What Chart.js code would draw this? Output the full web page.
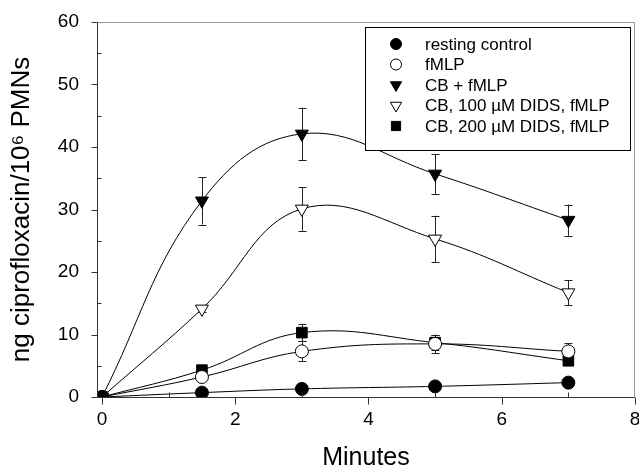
<!DOCTYPE html>
<html>
<head>
<meta charset="utf-8">
<script src="https://cdn.jsdelivr.net/npm/chart.js@4.4.1/dist/chart.umd.min.js"></script>
<style>
  html, body { margin: 0; padding: 0; background: #fff; }
  #wrap { width: 639px; height: 469px; }
</style>
</head>
<body>
<div id="wrap"><canvas id="myChart"></canvas></div>
<script>
// time points (minutes)
const minutes = [0, 1.5, 3, 5, 7];

// ng ciprofloxacin / 10^6 PMNs
const resting = [0, 0.7, 1.3, 1.7, 2.3];
const fmlp = [0, 3.2, 7.3, 8.5, 7.3];
const cbFmlp = [0, 31.4, 42.1, 35.7, 28.3];
const dids100 = [0, 14.1, 30.1, 25.3, 16.7];
const dids200 = [0, 4.3, 10.3, 8.7, 5.8];

// error bars (0 = none visible)
const restingErr = [0, 0, 0, 0, 0];
const fmlpErr = [0, 0, 1.6, 1.5, 1.3];
const cbFmlpErr = [0, 3.8, 4.2, 3.2, 2.5];
const dids100Err = [0, 0.5, 3.5, 3.7, 2.0];
const dids200Err = [0, 0, 1.4, 1.2, 0];

const legendLabels = ['resting control', 'fMLP', 'CB + fMLP', 'CB, 100 \u00b5M DIDS, fMLP', 'CB, 200 \u00b5M DIDS, fMLP'];
const xTickVals = [0, 2, 4, 6, 8];
const xMinorVals = [1, 3, 5, 7];
const yTickVals = [0, 10, 20, 30, 40, 50, 60];
const yMinorVals = [5, 15, 25, 35, 45, 55];

const FONT = '"Liberation Sans", Arial, sans-serif';

function makeSet(label, values, errs, style, filled, rotation, radius) {
    return {
        label: label,
        data: minutes.map((m, i) => ({ x: m, y: values[i] })),
        errors: errs,
        borderColor: '#000',
        borderWidth: 1,
        tension: 0.4,
        pointStyle: style,
        rotation: rotation,
        pointRotation: rotation,
        pointRadius: radius,
        pointBackgroundColor: filled ? '#000' : '#fff',
        pointBorderColor: '#000',
        pointBorderWidth: 1,
        fill: false
    };
}

// error bars drawn under the markers
const errorBars = {
    id: 'errorBars',
    beforeDatasetsDraw(chart) {
        const ctx = chart.ctx;
        const xs = chart.scales.x, ys = chart.scales.y;
        ctx.save();
        ctx.strokeStyle = '#222';
        ctx.lineWidth = 1;
        chart.data.datasets.forEach(ds => {
            ds.data.forEach((p, i) => {
                const e = ds.errors[i];
                if (!e) return;
                const x = Math.round(xs.getPixelForValue(p.x)) + 0.5;
                const top = ys.getPixelForValue(p.y + e);
                const bot = ys.getPixelForValue(p.y - e);
                ctx.beginPath();
                ctx.moveTo(x, top); ctx.lineTo(x, bot);
                ctx.moveTo(x - 4, Math.round(top) + 0.5); ctx.lineTo(x + 4, Math.round(top) + 0.5);
                ctx.moveTo(x - 4, Math.round(bot) + 0.5); ctx.lineTo(x + 4, Math.round(bot) + 0.5);
                ctx.stroke();
            });
        });
        ctx.restore();
    }
};

// frame and tick marks (major outside, minor inside)
const frameTicks = {
    id: 'frameTicks',
    afterDraw(chart) {
        const ctx = chart.ctx;
        const a = chart.chartArea;
        const xs = chart.scales.x, ys = chart.scales.y;
        const L = Math.round(a.left) + 0.5, R = Math.round(a.right) - 0.5;
        const T = Math.round(a.top) + 0.5, B = Math.round(a.bottom) + 0.5;
        ctx.save();
        ctx.lineWidth = 1;
        ctx.strokeStyle = '#999';
        ctx.beginPath();
        ctx.moveTo(L, T); ctx.lineTo(R, T); ctx.lineTo(R, B);
        ctx.stroke();
        ctx.strokeStyle = '#333';
        ctx.beginPath();
        ctx.moveTo(L, T); ctx.lineTo(L, B); ctx.lineTo(R, B);
        yTickVals.forEach(v => {
            const y = Math.round(ys.getPixelForValue(v)) + 0.5;
            ctx.moveTo(L - 6, y); ctx.lineTo(L, y);
        });
        yMinorVals.forEach(v => {
            const y = Math.round(ys.getPixelForValue(v)) + 0.5;
            ctx.moveTo(L, y); ctx.lineTo(L + 4, y);
        });
        xTickVals.forEach(v => {
            const x = Math.round(xs.getPixelForValue(v)) + 0.5;
            ctx.moveTo(x, B); ctx.lineTo(x, B + 7);
        });
        xMinorVals.forEach(v => {
            const x = Math.round(xs.getPixelForValue(v)) + 0.5;
            ctx.moveTo(x, B); ctx.lineTo(x, B - 5);
        });
        ctx.stroke();
        ctx.restore();
    }
};

// boxed legend inside the plot, upper right
const boxLegend = {
    id: 'boxLegend',
    afterDraw(chart) {
        const ctx = chart.ctx;
        ctx.save();
        ctx.fillStyle = '#fff';
        ctx.fillRect(365, 27, 265, 123);
        ctx.strokeStyle = '#000';
        ctx.lineWidth = 1;
        ctx.strokeRect(365.5, 27.5, 265, 123);
        ctx.font = '17px ' + FONT;
        ctx.textBaseline = 'middle';
        chart.data.datasets.forEach((ds, i) => {
            const y = 44 + i * 20.5;
            ctx.fillStyle = ds.pointBackgroundColor;
            ctx.strokeStyle = '#000';
            ctx.lineWidth = 1;
            Chart.helpers.drawPoint(ctx, {
                pointStyle: ds.pointStyle,
                rotation: ds.pointRotation,
                radius: ds.pointStyle === 'circle' ? 5.5 : 6.5,
                borderWidth: 1
            }, 396, y);
            ctx.fillStyle = '#000';
            ctx.fillText(ds.label, 425, y + 1);
        });
        ctx.restore();
    }
};

const ctx = document.getElementById('myChart').getContext('2d');
const myChart = new Chart(ctx, {
    type: 'line',
    data: {
        datasets: [
            makeSet(legendLabels[0], resting, restingErr, 'circle', true, 0, 6.5),
            makeSet(legendLabels[1], fmlp, fmlpErr, 'circle', false, 0, 6.5),
            makeSet(legendLabels[2], cbFmlp, cbFmlpErr, 'triangle', true, 180, 7.5),
            makeSet(legendLabels[3], dids100, dids100Err, 'triangle', false, 180, 7.5),
            makeSet(legendLabels[4], dids200, dids200Err, 'rect', true, 0, 7.5)
        ]
    },
    options: {
        responsive: true,
        maintainAspectRatio: false,
        animation: false,
        layout: { autoPadding: false, padding: { top: 22, right: 4, left: 0, bottom: 0 } },
        plugins: {
            legend: { display: false },
            tooltip: { enabled: false }
        },
        scales: {
            x: {
                type: 'linear',
                min: -0.075,
                max: 8,
                afterBuildTicks: s => { s.ticks = xTickVals.map(v => ({ value: v })); },
                afterFit: s => { s.height = 72; s.paddingLeft = 0; s.paddingRight = 0; },
                grid: { display: false, drawTicks: false },
                border: { display: false },
                ticks: { padding: 11, color: '#000', font: { family: FONT, size: 19 }, maxRotation: 0 },
                title: {
                    display: true,
                    text: 'Minutes',
                    color: '#000',
                    font: { family: FONT, size: 25, lineHeight: 0.9 },
                    padding: 0
                }
            },
            y: {
                min: 0,
                max: 60,
                afterBuildTicks: s => { s.ticks = yTickVals.map(v => ({ value: v })); },
                afterFit: s => { s.width = 97; s.paddingTop = 0; s.paddingBottom = 0; },
                grid: { display: false, drawTicks: false },
                border: { display: false },
                ticks: { padding: 18, color: '#000', font: { family: FONT, size: 19 } },
                title: {
                    display: true,
                    text: 'ng ciprofloxacin/10\u2076 PMNs',
                    color: '#000',
                    font: { family: FONT, size: 26, lineHeight: 1.2 },
                    padding: { top: 6, bottom: 0 }
                }
            }
        }
    },
    plugins: [errorBars, frameTicks, boxLegend]
});
</script>
</body>
</html>
